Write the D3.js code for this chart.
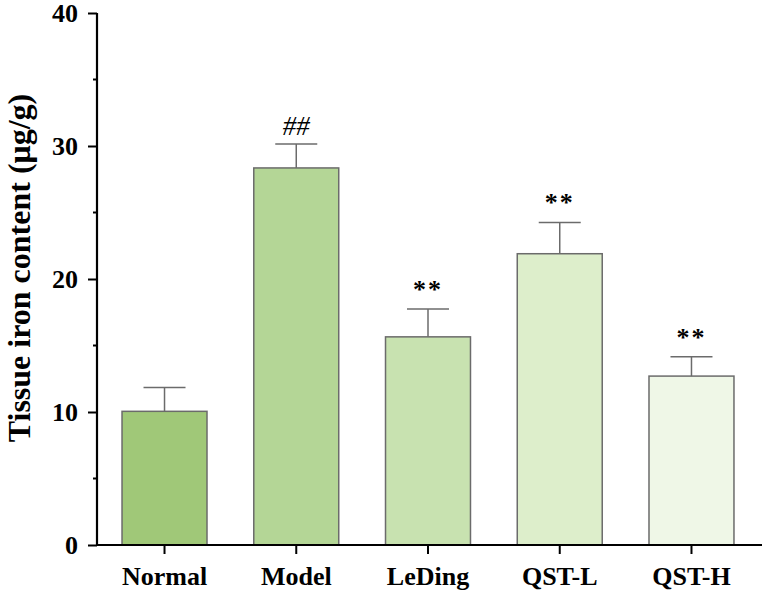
<!DOCTYPE html>
<html>
<head>
<meta charset="utf-8">
<script src="https://cdn.jsdelivr.net/npm/d3@7"></script>
<style>
  body { margin: 0; background: #fff; }
  text { font-family: "Liberation Serif", "Times New Roman", serif; font-weight: bold; }
</style>
</head>
<body>
<script>
'use strict';
let groups = ['Normal', 'Model', 'LeDing', 'QST-L', 'QST-H'];
let means = [10.05, 28.35, 15.65, 21.9, 12.7];
let errors = [1.8, 1.8, 2.1, 2.35, 1.45];
let marks = ['', '##', '**', '**', '**'];
let colors = ['#a0c878', '#b4d696', '#c8e2b0', '#ddeecb', '#eff7e7'];
let yTicks = [0, 10, 20, 30, 40];

let width = 762, height = 594;
let margin = {left: 97, right: 3, top: 13, bottom: 49};

let svg = d3.select('body').append('svg').attr('width', width).attr('height', height);

let x = d3.scaleBand()
	.domain(groups)
	.range([margin.left, width - margin.right])
	.paddingInner(0.355)
	.paddingOuter(0.19);
let y = d3.scaleLinear()
	.domain([0, 40])
	.range([height - margin.bottom, margin.top]);

// bars
svg.selectAll('rect.bar').data(groups).enter().append('rect')
	.attr('class', 'bar')
	.attr('x', d => x(d))
	.attr('y', (d, i) => y(means[i]))
	.attr('width', x.bandwidth())
	.attr('height', (d, i) => y(0) - y(means[i]))
	.attr('fill', (d, i) => colors[i])
	.attr('stroke', '#6b6b6b')
	.attr('stroke-width', 1.5);

// error bars
let capW = 42;
groups.forEach(function(g, i){
	let cx = x(g) + x.bandwidth() / 2;
	svg.append('line')
		.attr('x1', cx).attr('x2', cx)
		.attr('y1', y(means[i])).attr('y2', y(means[i] + errors[i]))
		.attr('stroke', '#6b6b6b').attr('stroke-width', 1.5);
	svg.append('line')
		.attr('x1', cx - capW / 2).attr('x2', cx + capW / 2)
		.attr('y1', y(means[i] + errors[i])).attr('y2', y(means[i] + errors[i]))
		.attr('stroke', '#6b6b6b').attr('stroke-width', 1.5);
	if (marks[i]) {
		let hash = marks[i] === '##';
		svg.append('text')
			.attr('x', cx)
			.attr('y', y(means[i] + errors[i]) - (hash ? 9 : 11))
			.attr('text-anchor', 'middle')
			.style('font-size', hash ? '27px' : '26px')
			.style('font-weight', hash ? 'normal' : 'bold')
			.style('font-style', hash ? 'italic' : 'normal')
			.style('letter-spacing', hash ? '0px' : '2px')
			.text(marks[i]);
	}
});

// y axis
let yAxis = d3.axisLeft(y).tickValues(yTicks).tickSize(9).tickPadding(10);
let yg = svg.append('g')
	.attr('transform', 'translate(' + margin.left + ',0)')
	.call(yAxis);
yg.selectAll('.tick text').style('font-size', '26px').attr('dy', '0.34em');

// minor ticks
svg.append('g').selectAll('line').data([5, 15, 25, 35]).enter().append('line')
	.attr('x1', margin.left - 4).attr('x2', margin.left)
	.attr('y1', d => y(d)).attr('y2', d => y(d))
	.attr('stroke', '#000').attr('stroke-width', 2);

// x axis
let xAxis = d3.axisBottom(x).tickSize(9);
let xg = svg.append('g')
	.attr('transform', 'translate(0,' + y(0) + ')')
	.call(xAxis);
xg.selectAll('.tick text').style('font-size', '26px').attr('y', 40).attr('dy', 0);

svg.selectAll('.domain').attr('stroke', '#000').attr('stroke-width', 2.2);
svg.selectAll('.tick line').attr('stroke', '#000').attr('stroke-width', 2);
// extend x axis line to the right edge
xg.select('.domain').attr('d', 'M' + margin.left + ',0H' + width);
yg.select('.domain').attr('d', 'M0,' + y(40) + 'V' + y(0));

svg.selectAll('.tick text').attr('fill', '#000');

// y label
svg.append('text')
	.attr('transform', 'translate(30,268) rotate(-90)')
	.attr('text-anchor', 'middle')
	.style('font-size', '32px')
	.text('Tissue iron content (\u03bcg/g)');
</script>
</body>
</html>
